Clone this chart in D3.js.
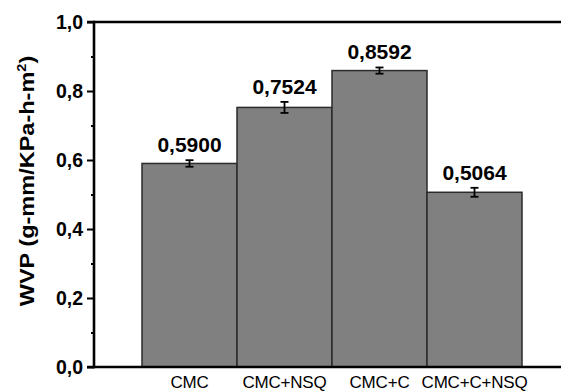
<!DOCTYPE html>
<html>
<head>
<meta charset="utf-8">
<script src="https://cdn.jsdelivr.net/npm/d3@7"></script>
<style>
html,body{margin:0;padding:0;background:#fff;}
svg{display:block;font-family:"Liberation Sans",Arial,sans-serif;}
</style>
</head>
<body>
<svg id="chart" width="561" height="392"></svg>
<script>
const categories = ["CMC", "CMC+NSQ", "CMC+C", "CMC+C+NSQ"];
const values = [0.5900, 0.7524, 0.8592, 0.5064];
const errors = [0.0095, 0.016, 0.009, 0.013];
const valueLabels = ["0,5900", "0,7524", "0,8592", "0,5064"];
const majorTicks = [0, 0.2, 0.4, 0.6, 0.8, 1.0];
const minorTicks = [0.1, 0.3, 0.5, 0.7, 0.9];
const yTitle = "WVP (g-mm/KPa-h-m";

(function () {
const svg = d3.select("#chart");
const mLeft = 94, mRight = 561, mTop = 22, mBottom = 367;

const y = d3.scaleLinear().domain([0, 1]).range([mBottom, mTop]);
const x = d3.scaleBand().domain(categories).range([142, 522]).padding(0);

// bars
svg.append("g").selectAll("rect").data(categories).join("rect")
  .attr("x", d => x(d))
  .attr("y", (d, i) => y(values[i]))
  .attr("width", x.bandwidth())
  .attr("height", (d, i) => y(0) - y(values[i]))
  .attr("fill", "#808080")
  .attr("stroke", "#2b2b2b")
  .attr("stroke-width", 1.5);

// error bars
const eg = svg.append("g").attr("stroke", "#000").attr("stroke-width", 1.8);
categories.forEach((c, i) => {
  const cx = x(c) + x.bandwidth() / 2;
  const y1 = y(values[i] + errors[i]), y2 = y(values[i] - errors[i]);
  eg.append("line").attr("x1", cx).attr("x2", cx).attr("y1", y1).attr("y2", y2);
  eg.append("line").attr("x1", cx - 4).attr("x2", cx + 4).attr("y1", y1).attr("y2", y1);
  eg.append("line").attr("x1", cx - 4).attr("x2", cx + 4).attr("y1", y2).attr("y2", y2);
});

// value labels
svg.append("g").selectAll("text").data(categories).join("text")
  .attr("x", d => x(d) + x.bandwidth() / 2)
  .attr("y", (d, i) => y(values[i] + errors[i]) - 8)
  .attr("text-anchor", "middle")
  .attr("font-size", 21)
  .attr("font-weight", "bold")
  .attr("fill", "#000")
  .text((d, i) => valueLabels[i]);

// y axis major
const fmt = d3.format(".1f");
const yAxis = d3.axisLeft(y).tickValues(majorTicks).tickSize(7).tickPadding(4)
  .tickFormat(d => fmt(d).replace(".", ","));
const ya = svg.append("g").attr("transform", `translate(${mLeft},0)`).call(yAxis);
ya.select(".domain").remove();
ya.selectAll(".tick line").attr("stroke", "#000").attr("stroke-width", 2);
ya.selectAll(".tick text").attr("font-size", 19.5).attr("font-weight", "bold")
  .attr("fill", "#000").attr("font-family", "'Liberation Sans',Arial,sans-serif");

// y axis minor
const yMinor = d3.axisLeft(y).tickValues(minorTicks).tickSize(3).tickFormat("");
const ym = svg.append("g").attr("transform", `translate(${mLeft},0)`).call(yMinor);
ym.select(".domain").remove();
ym.selectAll(".tick line").attr("stroke", "#000").attr("stroke-width", 2);

// frame lines
const fg = svg.append("g").attr("stroke", "#000").attr("stroke-width", 2.6);
fg.append("line").attr("x1", mLeft).attr("x2", mLeft).attr("y1", mTop - 1.3).attr("y2", mBottom + 1.3);
fg.append("line").attr("x1", mLeft - 7).attr("x2", mRight).attr("y1", mTop).attr("y2", mTop);
fg.append("line").attr("x1", mLeft - 7).attr("x2", mRight).attr("y1", mBottom).attr("y2", mBottom);

// x category labels
const xAxis = d3.axisBottom(x).tickSize(0).tickPadding(0);
const xa = svg.append("g").attr("transform", `translate(0,${mBottom})`).call(xAxis);
xa.select(".domain").remove();
xa.selectAll(".tick text").attr("font-size", 17).attr("fill", "#000")
  .attr("font-family", "'Liberation Sans',Arial,sans-serif")
  .attr("letter-spacing", "-0.2")
  .attr("dy", null).attr("y", 21);

// y title
const t = svg.append("text")
  .attr("transform", `translate(34,181) rotate(-90) scale(1.12,1)`)
  .attr("text-anchor", "middle")
  .attr("font-size", 21)
  .attr("font-weight", "bold")
  .attr("fill", "#000");
t.append("tspan").text(yTitle);
t.append("tspan").attr("font-size", 13).attr("dy", -8).text("2");
t.append("tspan").attr("dy", 8).text(")");
})();
</script>
</body>
</html>
